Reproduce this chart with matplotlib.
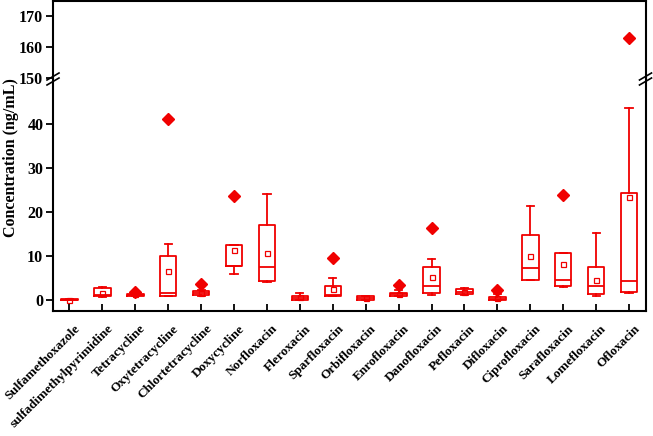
import matplotlib
matplotlib.use('Agg')
import matplotlib.pyplot as plt
from matplotlib.transforms import ScaledTranslation
from matplotlib.lines import Line2D

categories = ["Sulfamethoxazole", "sulfadimethylpyrimidine", "Tetracycline",
              "Oxytetracycline", "Chlortetracycline", "Doxycycline", "Norfloxacin",
              "Fleroxacin", "Sparfloxacin", "Orbifloxacin", "Enrofloxacin",
              "Danofloxacin", "Pefloxacin", "Difloxacin", "Ciprofloxacin",
              "Sarafloxacin", "Lomefloxacin", "Ofloxacin"]
whislo = [0.0, 0.7, 1.0, 0.8, 1.0, 5.9, 4.1, 0.0, 0.8, 0.0, 1.0, 1.05, 1.2, 0.05, 4.6, 2.9, 0.8, 1.5]
q1     = [0.02, 0.8, 1.0, 0.8, 1.1, 7.7, 4.25, 0.1, 0.8, -0.1, 1.0, 1.5, 1.3, 0.07, 4.6, 3.1, 1.3, 1.75]
med    = [0.05, 1.2, 1.2, 1.6, 1.5, 7.8, 7.4, 0.5, 1.2, 0.4, 1.3, 3.1, 1.9, 0.2, 7.3, 4.6, 3.1, 4.4]
q3     = [0.15, 2.8, 1.4, 10.1, 2.1, 12.4, 17.0, 1.0, 3.3, 0.8, 1.7, 7.6, 2.6, 0.6, 14.8, 10.6, 7.4, 24.4]
whishi = [0.2, 2.9, 1.5, 12.8, 2.3, 12.4, 24.1, 1.7, 4.9, 0.9, 2.3, 9.4, 2.8, 1.4, 21.4, 10.6, 15.3, 43.7]
means  = [0.05, 1.6, 1.3, 6.7, 1.6, 11.4, 10.6, 0.6, 2.5, 0.4, 1.4, 5.2, 1.9, 0.4, 9.9, 8.2, 4.6, 23.4]
outliers = [[], [], [1.8], [41.1], [3.7], [23.7], [], [], [9.5], [], [3.4],
            [16.3], [], [2.35], [], [23.8], [], [163.1]]

plt.rcParams['font.family'] = ['Liberation Serif', 'DejaVu Serif']
plt.rcParams['font.weight'] = 'bold'

fig = plt.figure(figsize=(6.53, 4.36), dpi=100)
W, H = 653, 436
L, R = 53 / W, 645.5 / W
ax_lo = fig.add_axes([L, 125 / H, R - L, 233 / H])
ax_hi = fig.add_axes([L, 358 / H, R - L, 77 / H])

stats = []
for i, c in enumerate(categories):
    stats.append(dict(label=c, q1=q1[i], med=med[i], q3=q3[i], whislo=whislo[i],
                      whishi=whishi[i], mean=means[i], fliers=outliers[i]))

red = '#F00000'
lw = 1.3
for ax in (ax_lo, ax_hi):
    ax.bxp(stats, positions=range(len(categories)), widths=0.5, capwidths=0.22,
           showmeans=True, showfliers=True,
           boxprops=dict(color=red, lw=lw), medianprops=dict(color=red, lw=lw),
           whiskerprops=dict(color=red, lw=lw), capprops=dict(color=red, lw=lw),
           flierprops=dict(marker='D', markerfacecolor=red, markeredgecolor=red, markersize=6.5),
           meanprops=dict(marker='s', markerfacecolor='none', markeredgecolor=red,
                          markersize=3.6, markeredgewidth=0.9))
    ax.set_xlim(-0.5, 17.5)
    for s in ax.spines.values():
        s.set_linewidth(1.5)

ax_lo.set_ylim(-2.5, 50.5)
ax_hi.set_ylim(150, 175)
ax_lo.set_yticks([0, 10, 20, 30, 40])
ax_hi.set_yticks([150, 160, 170])
ax_lo.spines['top'].set_visible(False)
ax_hi.spines['bottom'].set_visible(False)

ax_hi.tick_params(axis='x', bottom=False, labelbottom=False)
for ax in (ax_lo, ax_hi):
    ax.tick_params(axis='y', direction='out', length=5, width=1.3, labelsize=11.5, pad=2)
ax_lo.tick_params(axis='x', direction='in', length=5, width=1.3, labelsize=9.5, pad=8.5)

ax_lo.set_xticks(range(len(categories)))
ax_lo.set_xticklabels(categories, rotation=45, ha='right', va='top', fontweight='bold')
offset = ScaledTranslation(13 / 100, 0, fig.dpi_scale_trans)
for lab in ax_lo.get_xticklabels():
    lab.set_transform(lab.get_transform() + offset)
for lab in ax_lo.get_yticklabels() + ax_hi.get_yticklabels():
    lab.set_fontweight('bold')

fig.text(11 / W, 1 - 158 / H, 'Concentration (ng/mL)', rotation=90, ha='center',
         va='center', fontsize=11.5, fontweight='bold')

# break marks
yb = 1 - 79 / H
for xp in (53, 645.5):
    for dy in (-2.5, 2.5):
        x0, x1 = (xp - 6) / W, (xp + 6) / W
        y0, y1 = yb + (dy - 3.5) / H, yb + (dy + 3.5) / H
        fig.add_artist(Line2D([x0, x1], [y0, y1], color='black', lw=1.2,
                              transform=fig.transFigure))

fig.savefig('out.png', dpi=100)
